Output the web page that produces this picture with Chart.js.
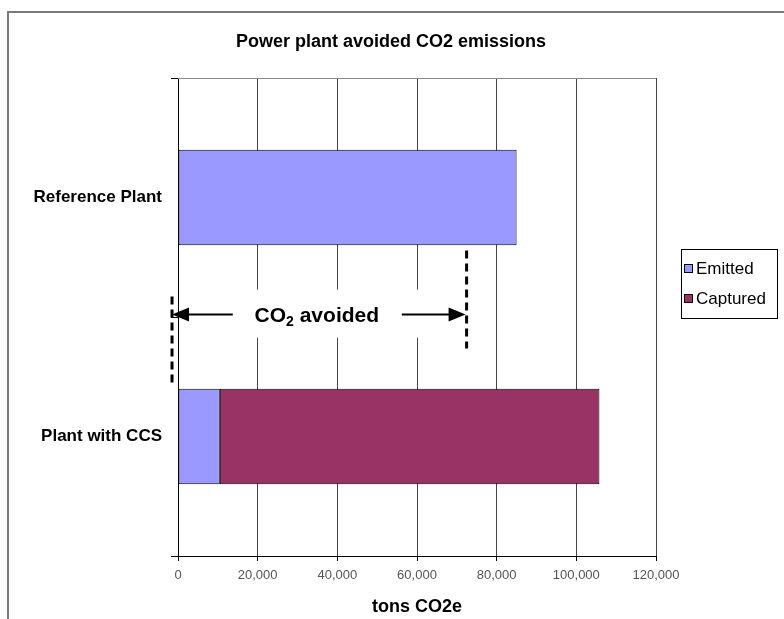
<!DOCTYPE html>
<html>
<head>
<meta charset="utf-8">
<script src="https://cdn.jsdelivr.net/npm/chart.js@4.4.1/dist/chart.umd.min.js"></script>
<style>
  html, body { margin: 0; padding: 0; background: #fff; }
  #wrap { width: 784px; height: 619px; position: relative; }
</style>
</head>
<body>
<div id="wrap"><canvas id="chart" width="784" height="619"></canvas></div>
<script>
// chart values
var categories = ['Reference Plant', 'Plant with CCS'];
var emitted = [85000, 10500];
var captured = [0, 95300];
var seriesNames = ['Emitted', 'Captured'];
var seriesColors = ['#9999FF', '#993366'];
var xTicks = [0, 20000, 40000, 60000, 80000, 100000, 120000];
var chartTitle = 'Power plant avoided CO2 emissions';
// "CO2 avoided" bracket, in tons
var avoidedFrom = -1500;
var avoidedTo = 72200;

var FONT = 'Arial, "Liberation Sans", sans-serif';

// frame, title, plot top line, legend box and the avoided-CO2 note
var extras = {
    id: 'extras',
    beforeDraw: function (chart) {
        var c = chart.ctx;
        c.save();
        c.fillStyle = '#fff';
        c.fillRect(0, 0, chart.width, chart.height);
        c.strokeStyle = '#7a7a7a';
        c.lineWidth = 2;
        c.beginPath();
        c.moveTo(8, chart.height + 2);
        c.lineTo(8, 12);
        c.lineTo(chart.width + 2, 12);
        c.stroke();

        c.fillStyle = '#000';
        c.font = 'bold 18px ' + FONT;
        c.textAlign = 'center';
        c.textBaseline = 'middle';
        c.fillText(chartTitle, 391, 42);
        c.restore();
    },
    afterDatasetsDraw: function (chart) {
        var c = chart.ctx;
        var x = chart.scales.x, y = chart.scales.y;
        var a = chart.chartArea;
        c.save();
        // top edge of plot area
        c.strokeStyle = '#888';
        c.lineWidth = 1;
        c.beginPath();
        c.moveTo(a.left, a.top + 0.5);
        c.lineTo(a.right, a.top + 0.5);
        c.stroke();

        // legend
        var lx = a.right + 25, ly = 249, lw = 96, lh = 69;
        c.fillStyle = '#fff';
        c.fillRect(lx, ly, lw, lh);
        c.strokeStyle = '#000';
        c.strokeRect(lx + 0.5, ly + 0.5, lw, lh);
        c.font = '17px ' + FONT;
        c.textBaseline = 'middle';
        for (var i = 0; i < seriesNames.length; i++) {
            var ry = ly + 19 + i * 30;
            c.fillStyle = seriesColors[i];
            c.fillRect(lx + 3, ry - 4, 9, 9);
            c.strokeStyle = '#000';
            c.strokeRect(lx + 3.5, ry - 3.5, 8, 8);
            c.fillStyle = '#000';
            c.fillText(seriesNames[i], lx + 15, ry + 1);
        }

        // CO2 avoided note
        var ay = y.getPixelForValue(0.49);
        var x0 = x.getPixelForValue(avoidedFrom);
        var x1 = x.getPixelForValue(avoidedTo);
        var mid = (x0 + x1) / 2;
        c.fillStyle = '#fff';
        c.fillRect(mid - 92, ay - 25, 206, 48);

        c.strokeStyle = '#000';
        c.lineWidth = 3;
        c.setLineDash([8, 5]);
        c.beginPath();
        c.moveTo(x0, ay - 18);
        c.lineTo(x0, ay + 68);
        c.moveTo(x1 + 1, ay - 64);
        c.lineTo(x1 + 1, ay + 34);
        c.stroke();
        c.setLineDash([]);

        c.lineWidth = 2;
        c.fillStyle = '#000';
        c.beginPath();
        c.moveTo(mid - 86, ay);
        c.lineTo(x0 + 14, ay);
        c.moveTo(mid + 83, ay);
        c.lineTo(x1 - 14, ay);
        c.stroke();
        c.beginPath();
        c.moveTo(x0, ay);
        c.lineTo(x0 + 17, ay - 7);
        c.lineTo(x0 + 17, ay + 7);
        c.closePath();
        c.moveTo(x1, ay);
        c.lineTo(x1 - 17, ay - 7);
        c.lineTo(x1 - 17, ay + 7);
        c.closePath();
        c.fill();

        var big = 'bold 21px ' + FONT, small = 'bold 14px ' + FONT;
        c.font = big;
        var wCO = c.measureText('CO').width;
        var wRest = c.measureText(' avoided').width;
        c.font = small;
        var w2 = c.measureText('2').width;
        var tx = mid - (wCO + w2 + wRest) / 2 - 2;
        c.textBaseline = 'alphabetic';
        c.font = big;
        c.fillText('CO', tx, ay + 7);
        c.font = small;
        c.fillText('2', tx + wCO, ay + 11);
        c.font = big;
        c.fillText(' avoided', tx + wCO + w2, ay + 7);
        c.restore();
    }
};

new Chart(document.getElementById('chart'), {
    type: 'bar',
    data: {
        labels: categories,
        datasets: [{
            label: seriesNames[0],
            data: emitted,
            backgroundColor: seriesColors[0],
            borderColor: '#000',
            borderWidth: 1,
            borderSkipped: false
        }, {
            label: seriesNames[1],
            data: captured,
            backgroundColor: seriesColors[1],
            borderColor: '#000',
            borderWidth: 1,
            borderSkipped: false
        }]
    },
    options: {
        indexAxis: 'y',
        responsive: false,
        animation: false,
        categoryPercentage: 0.4,
        barPercentage: 1,
        layout: { padding: { left: 0, right: 128, top: 78, bottom: 0 } },
        plugins: {
            legend: { display: false },
            tooltip: { enabled: false },
            title: { display: false }
        },
        scales: {
            x: {
                stacked: true,
                min: 0,
                max: 120000,
                afterBuildTicks: function (s) {
                    s.ticks = xTicks.map(function (v) { return { value: v }; });
                },
                afterFit: function (s) { s.height = 63; },
                grid: { color: '#444', lineWidth: 1, tickLength: 5, tickColor: '#000' },
                border: { display: true, color: '#000', width: 1 },
                ticks: {
                    color: '#555',
                    font: { family: FONT, size: 13 },
                    padding: 7,
                    maxRotation: 0,
                    callback: function (v) { return v.toLocaleString('en-US'); }
                },
                title: {
                    display: true,
                    text: 'tons CO2e',
                    color: '#000',
                    font: { family: FONT, size: 18, weight: 'bold' },
                    padding: { top: 2, bottom: 1 }
                }
            },
            y: {
                stacked: true,
                afterFit: function (s) { s.width = 178; },
                grid: { offset: true, drawOnChartArea: false, tickLength: 7, color: '#000' },
                border: { display: true, color: '#000', width: 1 },
                ticks: {
                    color: '#000',
                    font: { family: FONT, size: 17, weight: 'bold' },
                    padding: 9
                }
            }
        }
    },
    plugins: [extras]
});
</script>
</body>
</html>
